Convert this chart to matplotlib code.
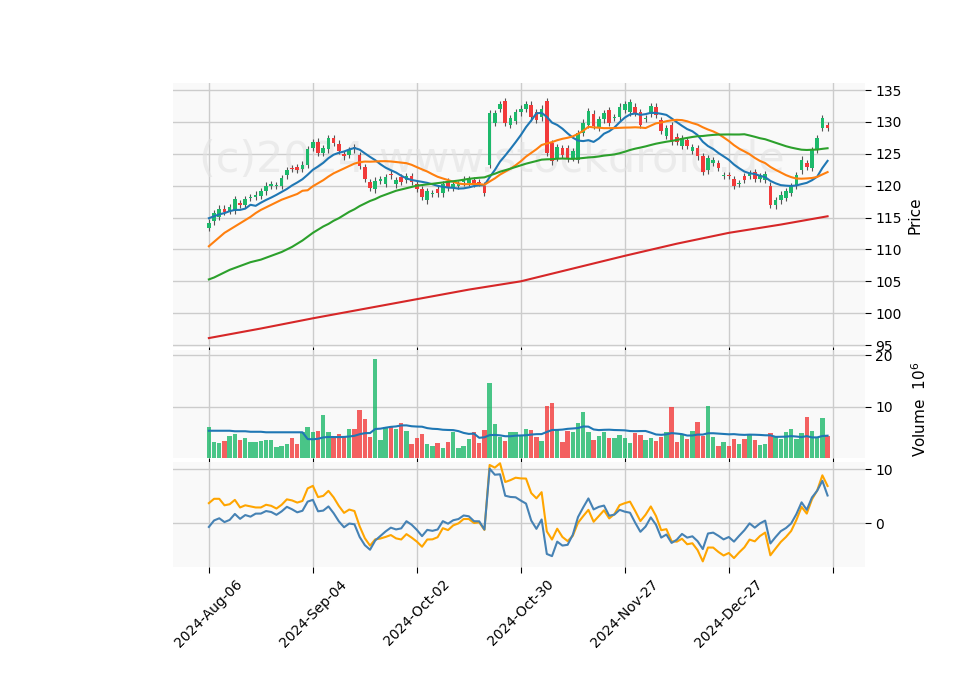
import numpy as np
import pandas as pd
import matplotlib
matplotlib.use("Agg")
import matplotlib.pyplot as plt

tick_labels = ["2024-Aug-06", "2024-Sep-04", "2024-Oct-02", "2024-Oct-30", "2024-Nov-27", "2024-Dec-27"]

opens = [113.4,114.4,115.1,116.4,116.1,116.1,117.3,117.0,118.1,118.2,118.4,119.1,119.9,120.0,120.0,121.6,122.7,122.9,122.6,123.3,
         125.9,126.9,125.1,125.7,127.4,126.6,125.0,124.8,126.1,124.8,122.9,120.6,119.4,120.7,120.3,121.9,120.2,121.3,120.9,121.5,
         120.3,119.4,117.7,118.7,119.4,118.8,120.7,119.6,119.9,120.5,120.4,120.9,120.5,120.0,123.3,129.9,132.0,133.2,129.5,130.2,
         131.5,132.1,132.7,131.6,130.7,133.2,126.7,124.3,125.9,125.9,124.3,124.1,128.3,129.5,131.3,129.0,130.4,131.9,130.6,130.7,
         131.9,131.5,132.4,131.6,130.5,131.2,132.4,130.3,127.8,129.5,127.7,126.2,127.1,125.4,125.9,124.6,122.4,123.6,123.6,121.5,
         121.7,121.0,120.3,121.5,121.5,122.1,121.0,120.9,120.0,116.9,117.7,118.1,118.9,119.9,122.4,123.6,122.8,125.7,129.0,129.5]
closes = [114.2,115.7,116.4,115.9,116.6,117.9,117.0,117.9,118.2,118.6,119.1,120.0,120.2,120.1,121.2,122.5,122.6,122.5,123.3,125.7,
          126.8,125.2,125.9,127.4,126.7,125.5,124.6,125.6,125.7,123.1,121.0,119.6,120.8,121.0,121.3,121.6,120.9,120.6,121.5,120.6,
          119.5,118.2,119.2,118.8,118.8,120.2,119.6,120.2,120.3,121.0,121.0,120.3,120.4,118.9,131.4,131.4,132.8,129.8,130.6,131.6,
          132.1,132.8,130.7,130.3,132.1,125.1,123.8,126.1,124.8,124.2,125.4,128.2,129.9,131.7,129.4,130.4,131.4,129.9,130.7,132.4,
          132.8,133.1,131.4,129.5,130.6,132.5,131.1,128.6,129.0,126.9,126.9,127.4,126.2,126.1,124.6,122.1,124.3,124.0,122.8,121.6,
          121.5,119.9,120.4,120.9,121.9,121.0,121.5,121.8,117.0,117.8,118.6,119.1,119.9,121.7,124.1,122.9,125.6,127.4,130.6,129.0]
volumes = [6.0,3.2,3.0,3.3,4.3,4.7,3.5,3.9,3.1,3.1,3.4,3.5,3.5,2.2,2.3,2.8,3.9,2.8,5.1,6.1,
           5.0,5.3,8.3,5.0,4.0,4.6,4.0,5.7,5.7,9.3,7.5,4.0,19.2,3.5,6.1,6.0,5.6,6.8,5.2,2.7,
           3.8,4.7,2.8,2.4,3.0,1.9,3.1,5.1,1.9,2.3,3.6,5.1,3.0,5.5,14.5,6.7,4.0,3.4,5.1,5.0,
           4.5,5.6,5.4,4.0,3.3,10.2,10.6,5.5,3.2,5.2,5.0,6.8,9.0,5.0,3.5,4.2,5.1,3.9,3.8,4.5,
           3.8,2.9,4.8,4.5,3.5,3.9,3.4,4.1,5.1,10.0,3.2,4.6,3.6,5.2,7.0,4.2,10.2,4.0,2.4,3.1,
           2.4,3.6,2.8,3.6,4.5,3.5,2.6,2.8,4.9,4.0,3.6,5.1,5.6,3.6,4.8,8.0,5.2,4.0,7.8,4.3]
volma_head = [5.3,5.3,5.3,5.3,5.3,5.2,5.2,5.2,5.1,5.1,5.1,5.0,5.0,5.0,5.0,5.0,5.0,5.0,5.0]
sma10_head = [114.9,115.2,115.5,115.7,116.0,116.2,116.2,116.4,117.0]
sma20_head = [110.5,111.2,111.9,112.6,113.1,113.6,114.1,114.6,115.1,115.7,116.2,116.6,117.0,117.4,117.8,118.1,118.4,118.7,119.2]
sma50_head = [105.3,105.6,106.0,106.4,106.8,107.1,107.4,107.7,108.0,108.2,108.4,108.7,109.0,109.3,109.6,110.0,110.4,110.9,111.4,112.0,
              112.6,113.1,113.6,114.0,114.5,114.9,115.4,115.9,116.3,116.8,117.2,117.6,117.9,118.3,118.6,118.9,119.2,119.4,119.6,119.8,
              120.0,120.1,120.2,120.3,120.4,120.5,120.6,120.7,120.8]
sma200_idx = [0,10,20,30,40,50,60,70,80,90,100,110,119]
sma200_val = [96.1,97.6,99.2,100.7,102.2,103.7,105.0,107.0,109.0,110.9,112.6,113.9,115.2]

c = pd.Series(closes)
n = len(closes)
x = np.arange(n)
sma10 = c.rolling(10).mean().to_numpy(); sma10[:9] = sma10_head
sma20 = c.rolling(20).mean().to_numpy(); sma20[:19] = sma20_head
sma50 = c.rolling(50).mean().to_numpy(); sma50[:49] = sma50_head
volma = pd.Series(volumes).rolling(20).mean().to_numpy(); volma[:19] = volma_head
osc_blue = c.to_numpy() - sma10
osc_orange = c.to_numpy() - sma20

up, dn = "#1db96b", "#f23a3a"
cols = [up if cl >= op else dn for op, cl in zip(opens, closes)]
highs = [max(o, cl) + 0.5 for o, cl in zip(opens, closes)]
lows = [min(o, cl) - 0.5 for o, cl in zip(opens, closes)]

fig = plt.figure(figsize=(9.6, 6.9), dpi=100)
W, H = 960, 690
def ax_at(l, t, r, b):
    return fig.add_axes([l / W, 1 - b / H, (r - l) / W, (b - t) / H])
ax1 = ax_at(173, 83, 865, 347)
ax2 = ax_at(173, 350, 865, 458)
ax3 = ax_at(173, 462, 865, 567)
for a in (ax1, ax2, ax3):
    a.set_facecolor("#f9f9f9")
    for s in a.spines.values():
        s.set_visible(False)
    a.grid(True, color="#cccccc", lw=1)
    a.set_axisbelow(True)
    a.yaxis.tick_right()
    a.yaxis.set_label_position("right")
    a.set_xlim(-6.9, 126.2)
    a.set_xticks(np.arange(0, 121, 20))
    a.tick_params(length=4, labelsize=10, colors="black")
ax1.tick_params(axis="x", labelbottom=False)
ax2.tick_params(axis="x", labelbottom=False)
ax3.set_xticklabels(tick_labels + [""], rotation=45, ha="center")

ax1.vlines(x, lows, highs, colors="#555555", lw=0.8, zorder=2)
ax1.bar(x, np.array(closes) - np.array(opens), bottom=opens, width=0.7, color=cols, zorder=3)
ax1.plot(x, sma10, color="#1f77b4", lw=1.5, zorder=4)
ax1.plot(x, sma20, color="#ff7f0e", lw=1.5, zorder=4)
ax1.plot(x, sma50, color="#2ca02c", lw=1.5, zorder=4)
ax1.plot(sma200_idx, sma200_val, color="#d62728", lw=1.5, zorder=4)
ax1.set_ylim(94.7, 136.1)
ax1.set_yticks(range(95, 136, 5))
ax1.set_ylabel("Price", fontsize=11)
ax1.text(0.46, 0.71, "(c)2024 www.stockdroid.de", transform=ax1.transAxes, fontsize=31,
         color="#e2e2e2", alpha=0.6, ha="center", va="center", zorder=1)

ax2.bar(x, volumes, width=0.85, color=cols, alpha=0.8)
ax2.plot(x, volma, color="#1f77b4", lw=1.5)
ax2.set_ylim(0, 21)
ax2.set_yticks([10, 20])
ax2.set_ylabel("Volume  $10^6$", fontsize=11)
ax2.yaxis.set_label_coords(1.065, 0.45)

ax3.plot(x, osc_orange, color="orange", lw=1.5)
ax3.plot(x, osc_blue, color="steelblue", lw=1.5)
ax3.set_ylim(-8.1, 11.3)
ax3.set_yticks([0, 10])

fig.savefig("out.png", dpi=100)
